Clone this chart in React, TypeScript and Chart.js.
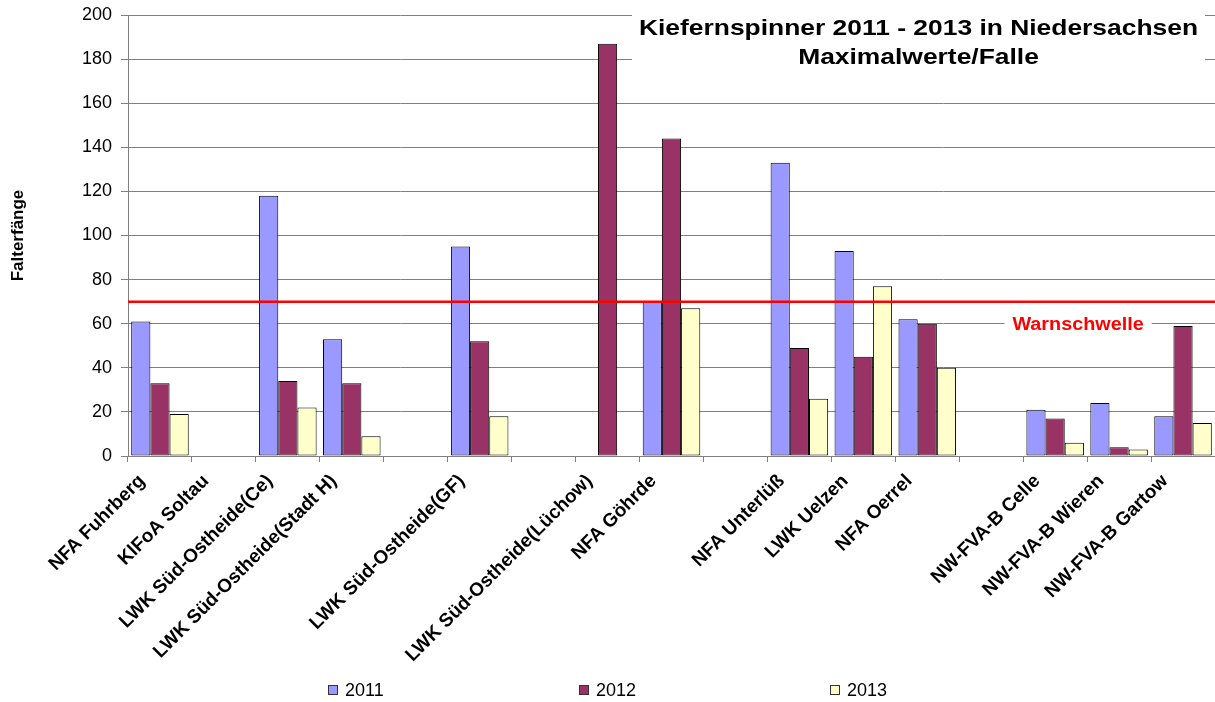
import React, { useEffect, useRef } from 'react';
import { Chart, registerables } from 'chart.js';

Chart.register(...registerables);

const CATEGORIES = [
  'NFA Fuhrberg',
  'KlFoA Soltau',
  'LWK Süd-Ostheide(Ce)',
  'LWK Süd-Ostheide(Stadt H)',
  '',
  'LWK Süd-Ostheide(GF)',
  '',
  'LWK Süd-Ostheide(Lüchow)',
  'NFA Göhrde',
  '',
  'NFA Unterlüß',
  'LWK Uelzen',
  'NFA Oerrel',
  '',
  'NW-FVA-B Celle',
  'NW-FVA-B Wieren',
  'NW-FVA-B Gartow',
];

const SERIES_LABELS = ['2011', '2012', '2013'];

const VALUES_2011 = [61, null, 118, 53, null, 95, null, null, 70, null, 133, 93, 62, null, 21, 24, 18];
const VALUES_2012 = [33, null, 34, 33, null, 52, null, 187, 144, null, 49, 45, 60, null, 17, 4, 59];
const VALUES_2013 = [19, null, 22, 9, null, 18, null, null, 67, null, 26, 77, 40, null, 6, 3, 15];

const Y_MIN = 0;
const Y_MAX = 200;
const Y_STEP = 20;

const WARN_THRESHOLD = 70;
const WARN_LABEL = 'Warnschwelle';
const WARN_LABEL_VALUE = 60;

const TITLE_LINES = ['Kiefernspinner 2011 - 2013 in Niedersachsen', 'Maximalwerte/Falle'];
const Y_TITLE = 'Falterfänge';

const SERIES_COLORS = ['#9999FF', '#993366', '#FFFFCC'];
const FONT = "'Liberation Sans', Arial, sans-serif";
const GRID = '#808080';

const overlayPlugin = {
  id: 'overlay',
  beforeDatasetsDraw(chart: any) {
    const { ctx, chartArea } = chart;
    ctx.save();
    const bx0 = chartArea.right - 583;
    const bx1 = chartArea.right - 10;
    ctx.fillStyle = '#ffffff';
    ctx.fillRect(bx0, 6, bx1 - bx0, 82);
    ctx.fillStyle = '#000000';
    ctx.font = `bold 22px ${FONT}`;
    ctx.textAlign = 'center';
    ctx.textBaseline = 'alphabetic';
    const cx = (bx0 + bx1) / 2;
    const baselines = [35, 64];
    TITLE_LINES.forEach((t, i) => {
      ctx.save();
      ctx.translate(cx, baselines[i]);
      ctx.scale(1.2, 1);
      ctx.fillText(t, 0, 0);
      ctx.restore();
    });
    ctx.restore();
  },
  afterDatasetsDraw(chart: any) {
    const { ctx, chartArea, scales } = chart;
    const y = scales.y.getPixelForValue(WARN_THRESHOLD);
    ctx.save();
    ctx.strokeStyle = '#FF0000';
    ctx.lineWidth = 2.5;
    ctx.beginPath();
    ctx.moveTo(chartArea.left, y);
    ctx.lineTo(chartArea.right, y);
    ctx.stroke();

    const ly = scales.y.getPixelForValue(WARN_LABEL_VALUE) + 1;
    const lx = chartArea.left + (chartArea.right - chartArea.left) * 0.874;
    ctx.font = `bold 18px ${FONT}`;
    const w = ctx.measureText(WARN_LABEL).width * 1.1;
    ctx.fillStyle = '#ffffff';
    ctx.fillRect(lx - w / 2 - 8, ly - 10, w + 16, 20);
    ctx.fillStyle = '#FF0000';
    ctx.textAlign = 'center';
    ctx.textBaseline = 'middle';
    ctx.translate(lx, ly);
    ctx.scale(1.1, 1);
    ctx.fillText(WARN_LABEL, 0, 0);
    ctx.restore();
  },
  afterDraw(chart: any) {
    const { ctx } = chart;
    ctx.save();
    ctx.font = `18px ${FONT}`;
    const step = 251;
    const box = 10;
    const gap = 7;
    const items = chart.data.datasets.map((d: any) => ({ label: d.label, color: d.backgroundColor }));
    const lastW = box + gap + ctx.measureText(items[items.length - 1].label).width;
    const total = step * (items.length - 1) + lastW;
    const x0 = chart.width / 2 - total / 2;
    const y = 690;
    items.forEach((it: any, i: number) => {
      const bx = Math.round(x0 + i * step);
      ctx.fillStyle = it.color;
      ctx.fillRect(bx, y - 5, box, box);
      ctx.strokeStyle = '#333333';
      ctx.lineWidth = 1;
      ctx.strokeRect(bx + 0.5, y - 4.5, box - 1, box - 1);
      ctx.fillStyle = '#000000';
      ctx.textAlign = 'left';
      ctx.textBaseline = 'middle';
      ctx.fillText(it.label, bx + box + gap, y + 1);
    });
    ctx.restore();
  },
};

export default function App() {
  const ref = useRef<HTMLCanvasElement>(null);
  useEffect(() => {
    const canvas = ref.current!;
    const seriesData = [VALUES_2011, VALUES_2012, VALUES_2013];
    const chart = new Chart(canvas, {
      type: 'bar',
      data: {
        labels: CATEGORIES,
        datasets: seriesData.map((d, i) => ({
          label: SERIES_LABELS[i],
          data: d,
          backgroundColor: SERIES_COLORS[i],
          borderColor: '#000000',
          borderWidth: 1,
          borderSkipped: false,
          categoryPercentage: 0.9,
          barPercentage: 1,
        })),
      },
      options: {
        responsive: false,
        animation: false,
        events: [],
        layout: { padding: { top: 15, right: 0, bottom: 0, left: 0 } },
        plugins: {
          legend: { display: false },
          tooltip: { enabled: false },
        },
        scales: {
          x: {
            grid: {
              display: true,
              drawOnChartArea: false,
              drawTicks: true,
              tickLength: 6,
              color: GRID,
              offset: true,
            },
            border: { display: true, color: GRID },
            ticks: {
              autoSkip: false,
              maxRotation: 45,
              minRotation: 45,
              color: '#000000',
              padding: 8,
              labelOffset: -18,
              font: { family: FONT, size: 19, weight: 'bold' },
            },
            afterFit(scale: any) {
              scale.height = 246;
            },
          },
          y: {
            min: Y_MIN,
            max: Y_MAX,
            ticks: {
              stepSize: Y_STEP,
              color: '#000000',
              padding: 9,
              font: { family: FONT, size: 18 },
            },
            grid: { color: GRID, tickLength: 7, lineWidth: 1 },
            border: { display: true, color: GRID },
            title: {
              display: true,
              text: Y_TITLE,
              color: '#000000',
              font: { family: FONT, size: 17, weight: 'bold' },
              padding: { top: 8, bottom: 0 },
            },
            afterFit(scale: any) {
              scale.width = 128;
              scale.paddingTop = 4;
              scale.paddingBottom = 4;
            },
          },
        },
      },
      plugins: [overlayPlugin],
    } as any);
    return () => chart.destroy();
  }, []);
  return (
    <div style={{ position: 'absolute', left: 0, top: 0, width: 1215, height: 702, background: '#ffffff' }}>
      <canvas ref={ref} width={1215} height={702} style={{ display: 'block' }} />
    </div>
  );
}
